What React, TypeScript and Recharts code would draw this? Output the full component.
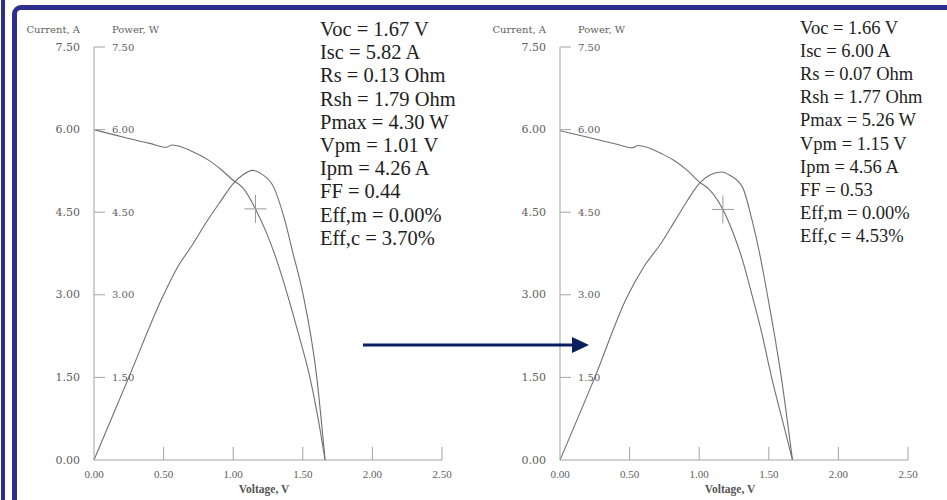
import React from "react";
import { ComposedChart, Line, Scatter, XAxis, YAxis } from "recharts";

// axis ticks shared by both panels
const voltageTicks = [0, 0.5, 1, 1.5, 2, 2.5];
const yTicks = [0, 1.5, 3, 4.5, 6, 7.5];

// left panel (before)
const ivVoltsBefore = [0, 0.2, 0.4, 0.52, 0.56, 0.74, 0.82, 0.91, 1.0, 1.07, 1.16, 1.24, 1.3, 1.39, 1.47, 1.55, 1.61, 1.66];
const ampsBefore = [6.0, 5.87, 5.75, 5.68, 5.72, 5.56, 5.45, 5.28, 5.08, 4.94, 4.56, 4.12, 3.72, 3.0, 2.28, 1.51, 0.75, 0];
const pvVoltsBefore = [0, 0.25, 0.5, 0.6, 0.705, 0.81, 0.91, 1.0, 1.07, 1.14, 1.2, 1.29, 1.37, 1.43, 1.5, 1.6, 1.66];
const wattsBefore = [0, 1.5, 3.0, 3.5, 3.9, 4.33, 4.7, 5.02, 5.18, 5.26, 5.2, 4.96, 4.36, 3.75, 3.03, 1.51, 0];
const mppBefore = [{ v: 1.16, i: 4.56 }];
const statsBefore = [
  "Voc = 1.67 V",
  "Isc = 5.82 A",
  "Rs = 0.13 Ohm",
  "Rsh = 1.79 Ohm",
  "Pmax = 4.30 W",
  "Vpm = 1.01 V",
  "Ipm = 4.26 A",
  "FF = 0.44",
  "Eff,m = 0.00%",
  "Eff,c = 3.70%",
];

// right panel (after)
const ivVoltsAfter = [0, 0.2, 0.4, 0.52, 0.56, 0.74, 0.82, 0.91, 1.0, 1.07, 1.17, 1.24, 1.31, 1.38, 1.45, 1.52, 1.6, 1.67];
const ampsAfter = [5.98, 5.86, 5.74, 5.67, 5.71, 5.55, 5.44, 5.27, 5.05, 4.92, 4.55, 4.15, 3.64, 2.99, 2.3, 1.5, 0.7, 0];
const pvVoltsAfter = [0, 0.25, 0.48, 0.6, 0.73, 0.82, 0.91, 1.0, 1.08, 1.16, 1.22, 1.31, 1.38, 1.43, 1.49, 1.59, 1.67];
const wattsAfter = [0, 1.5, 2.95, 3.5, 3.95, 4.32, 4.69, 5.02, 5.18, 5.23, 5.17, 4.96, 4.35, 3.8, 3.0, 1.5, 0];
const mppAfter = [{ v: 1.17, i: 4.55 }];
const statsAfter = [
  "Voc = 1.66 V",
  "Isc = 6.00 A",
  "Rs = 0.07 Ohm",
  "Rsh = 1.77 Ohm",
  "Pmax = 5.26 W",
  "Vpm = 1.15 V",
  "Ipm = 4.56 A",
  "FF = 0.53",
  "Eff,m = 0.00%",
  "Eff,c = 4.53%",
];

const FRAME = "#2e2e8e";
const ARROW = "#0b1f5e";
const CURVE = "#707070";
const AXIS = "#a3a3a3";
const LABEL = "#5e5e5e";

const ivRows = (vs: number[], is: number[]) => vs.map((v, k) => ({ v, i: is[k] }));
const pvRows = (vs: number[], ps: number[]) => vs.map((v, k) => ({ v, p: ps[k] }));

function YTick({ x, y, payload }: any) {
  const s = Number(payload.value).toFixed(2);
  return (
    <g>
      <text x={x - 14} y={y} textAnchor="end" dominantBaseline="central" fontSize={11} fontFamily="DejaVu Serif" fill={LABEL}>
        {s}
      </text>
      {payload.value > 0 && (
        <>
          <line x1={x} x2={x + 11} y1={y} y2={y} stroke={AXIS} />
          <text x={x + 18} y={y} dominantBaseline="central" fontSize={10} fontFamily="DejaVu Serif" fill={LABEL}>
            {s}
          </text>
        </>
      )}
    </g>
  );
}

function XTick({ x, y, payload }: any) {
  return (
    <g>
      {payload.value > 0 && <line x1={x} x2={x} y1={y} y2={y - 13} stroke={AXIS} />}
      <text x={x} y={y + 14} textAnchor="middle" dominantBaseline="central" fontSize={11} fontFamily="Liberation Serif" fill={LABEL}>
        {Number(payload.value).toFixed(2)}
      </text>
    </g>
  );
}

const voltageLabel = (p: any) => {
  const vb = p.viewBox;
  return (
    <text
      x={vb.x + vb.width / 2 - 4}
      y={vb.y + 29}
      textAnchor="middle"
      dominantBaseline="central"
      fontSize={11.5}
      fontWeight="bold"
      fontFamily="Liberation Serif"
      fill="#555"
    >
      Voltage, V
    </text>
  );
};

const yTitles = (p: any) => {
  const vb = p.viewBox;
  const ax = vb.x + vb.width;
  return (
    <g fontSize={10} fontFamily="DejaVu Serif" fill={LABEL}>
      <text x={ax - 14} y={vb.y - 18} textAnchor="end" dominantBaseline="central">
        Current, A
      </text>
      <text x={ax + 18} y={vb.y - 18} dominantBaseline="central">
        Power, W
      </text>
    </g>
  );
};

const Cross = (p: any) => (
  <g stroke="#9a9a9a" strokeWidth={1}>
    <line x1={p.cx - 11} x2={p.cx + 11} y1={p.cy} y2={p.cy} />
    <line x1={p.cx} x2={p.cx} y1={p.cy - 14} y2={p.cy + 14} />
  </g>
);

function Panel({ left, iv, pv, mpp, stats, statsLeft, statsTop, statsSize }: any) {
  return (
    <>
      <div style={{ position: "absolute", left, top: 0 }}>
        <ComposedChart width={470} height={500} margin={{ top: 47, right: 28, bottom: 0, left: 0 }}>
          <XAxis
            dataKey="v"
            type="number"
            domain={[0, 2.5]}
            ticks={voltageTicks}
            height={40}
            axisLine={{ stroke: AXIS }}
            tickLine={false}
            tickSize={0}
            tickMargin={0}
            tick={XTick}
            label={voltageLabel}
          />
          <YAxis
            yAxisId="i"
            type="number"
            domain={[0, 7.5]}
            ticks={yTicks}
            width={94}
            axisLine={{ stroke: AXIS }}
            tickLine={false}
            tickSize={0}
            tickMargin={0}
            tick={YTick}
            label={yTitles}
          />
          <YAxis yAxisId="p" type="number" domain={[0, 7.5]} hide />
          <Line yAxisId="i" data={iv} dataKey="i" type="monotone" stroke={CURVE} strokeWidth={1.1} dot={false} isAnimationActive={false} />
          <Line yAxisId="p" data={pv} dataKey="p" type="monotone" stroke={CURVE} strokeWidth={1.1} dot={false} isAnimationActive={false} />
          <Scatter yAxisId="i" data={mpp} dataKey="i" shape={Cross} isAnimationActive={false} />
        </ComposedChart>
      </div>
      <div
        style={{
          position: "absolute",
          left: statsLeft,
          top: statsTop,
          fontFamily: "Liberation Serif",
          fontSize: statsSize,
          lineHeight: "23.2px",
          color: "#1e1e1e",
          whiteSpace: "nowrap",
        }}
      >
        {stats.map((s: string) => (
          <div key={s}>{s}</div>
        ))}
      </div>
    </>
  );
}

export default function App() {
  return (
    <div style={{ position: "absolute", left: 0, top: 0, width: 947, height: 500, overflow: "hidden", background: "#fff" }}>
      <div style={{ position: "absolute", left: 1, top: 0, width: 4, height: 500, background: FRAME }} />
      <div
        style={{
          position: "absolute",
          left: 12,
          top: 5,
          width: 1100,
          height: 800,
          border: `5px solid ${FRAME}`,
          borderRadius: 9,
        }}
      />
      <Panel
        left={0}
        iv={ivRows(ivVoltsBefore, ampsBefore)}
        pv={pvRows(pvVoltsBefore, wattsBefore)}
        mpp={mppBefore}
        stats={statsBefore}
        statsLeft={320}
        statsTop={18}
        statsSize={20.5}
      />
      <Panel
        left={466}
        iv={ivRows(ivVoltsAfter, ampsAfter)}
        pv={pvRows(pvVoltsAfter, wattsAfter)}
        mpp={mppAfter}
        stats={statsAfter}
        statsLeft={800}
        statsTop={16.5}
        statsSize={18.5}
      />
      <svg style={{ position: "absolute", left: 0, top: 0 }} width={947} height={500}>
        <line x1={363} x2={575} y1={345} y2={345} stroke={ARROW} strokeWidth={3} />
        <polygon points="572,337 589,345 572,353" fill={ARROW} />
      </svg>
    </div>
  );
}
